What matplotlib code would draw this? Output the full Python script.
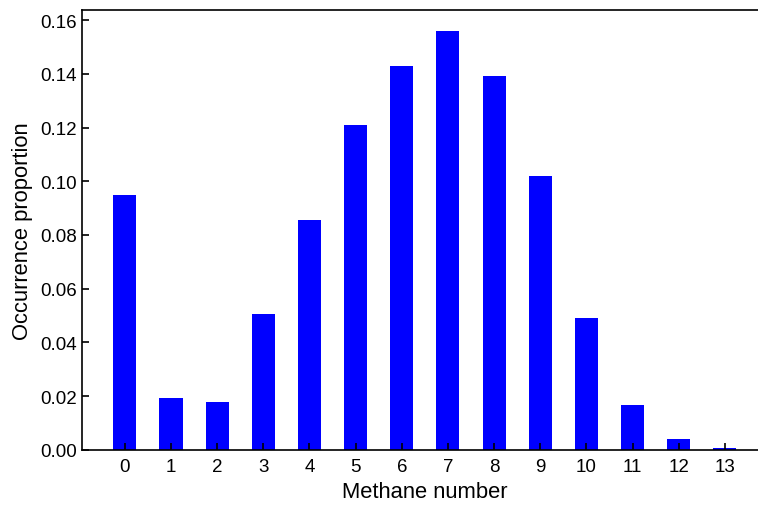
import numpy as np
import matplotlib
matplotlib.use("Agg")
import matplotlib.pyplot as plt

plt.rcParams['font.family'] = ['Liberation Sans', 'DejaVu Sans']

methane_number = list(range(14))
proportion = [0.0949, 0.0194, 0.0179, 0.0506, 0.0856, 0.1209, 0.1429,
              0.1559, 0.1392, 0.1020, 0.0491, 0.0168, 0.0041, 0.0008]
y_ticks = [0.00, 0.02, 0.04, 0.06, 0.08, 0.10, 0.12, 0.14, 0.16]

fig = plt.figure(figsize=(7.58, 5.06), dpi=100)
# the original figure is cut off on the right, so the axes run past the edge
ax = fig.add_axes([0.108, 0.109, 0.905, 0.869])
ax.bar(methane_number, proportion, width=0.5, color='blue')

ax.set_xticks(methane_number)
ax.set_xlim(-0.93, 13.93)
ax.set_ylim(0, 0.1637)
ax.set_yticks(y_ticks)
ax.set_yticklabels([f"{v:.2f}" for v in y_ticks])
ax.tick_params(direction='in', labelsize=13.5, length=5, width=1.2)
ax.tick_params(axis='x', pad=6)
for s in ['left', 'bottom', 'top', 'right']:
    ax.spines[s].set_linewidth(1.2)
ax.set_xlabel('Methane number', fontsize=15.8, labelpad=4)
ax.set_ylabel('Occurrence proportion', fontsize=15.8, labelpad=5)

fig.savefig('out.png', dpi=100)
